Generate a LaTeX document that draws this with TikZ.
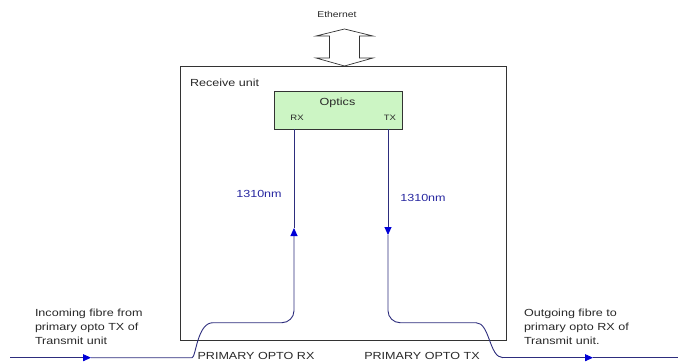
\documentclass[tikz,border=0pt]{standalone}
\usepackage{fontspec}
\setmainfont[FakeStretch=1.22]{Liberation Sans}
\usetikzlibrary{arrows.meta}
\definecolor{fib}{RGB}{45,45,125}
\definecolor{tipblue}{RGB}{0,0,215}
\definecolor{lbl}{RGB}{40,40,160}
\definecolor{optfill}{RGB}{204,245,196}
\definecolor{txtc}{RGB}{40,40,40}
\begin{document}
\begin{tikzpicture}[x=1pt,y=-1pt,
  every node/.style={inner sep=0pt, outer sep=0pt, text=txtc},
  txt/.style={font=\fontsize{10.3}{14}\selectfont, align=left},
  small/.style={font=\fontsize{7.8}{9}\selectfont},
  frame/.style={draw=black!80, line width=0.8pt},
  fibre/.style={draw=fib, line width=0.9pt, rounded corners=12pt},
  tip/.style={-{Triangle[length=8pt,width=7pt,color=tipblue]}},
]
\useasboundingbox (0,0) rectangle (679,363);

% Ethernet
\node[font=\fontsize{8.5}{10}\selectfont, anchor=base] (eth) at (337,18) {Ethernet};
\draw[frame, line width=0.7pt, fill=white]
  (344.5,29) -- (373,36) -- (359.5,36) -- (359.5,58) -- (373,58) -- (344.5,66)
  -- (316,58) -- (329.5,58) -- (329.5,36) -- (316,36) -- cycle;

% Receive unit box
\node[frame, minimum width=326, minimum height=274, anchor=north west] (unit) at (180,66.7) {};
\node[txt, anchor=base west] (ulabel) at (190,86.5) {Receive unit};

% Optics
\node[draw=black!80, line width=0.7pt, fill=optfill, minimum width=128, minimum height=37.5, anchor=north west] (optics) at (274,91.7) {};
\node[txt, anchor=base] (optlbl) at (337.5,105.5) {Optics};
\node[small, anchor=base] (rx) at (297,120.5) {RX};
\node[small, anchor=base] (tx) at (390,120.5) {TX};

% coordinates
\coordinate (rxtop) at (294,129.2);
\coordinate (rxarr) at (294,228);
\coordinate (txtop) at (388,129.2);
\coordinate (txarr) at (388,235);
\coordinate (lin) at (10,357.7);
\coordinate (larr) at (91,357.7);
\coordinate (lbend) at (180,357.7);
\coordinate (lup) at (213,322.7);
\coordinate (rdown) at (476,322.7);
\coordinate (rbend) at (503,357.7);
\coordinate (rarr) at (593,357.7);
\coordinate (rout) at (678,357.7);

% incoming fibre (left)
\draw[fibre, tip] (lin) -- (larr);
\draw[fibre] (larr) -- (lbend) .. controls (196,357.7) and (197,322.7) .. (lup);
\draw[fibre, rounded corners=12pt, tip] (lup) -- (294,322.7) -- (rxarr);
\draw[fibre] (rxarr) -- (rxtop);

% outgoing fibre (right)
\draw[fibre, tip] (txtop) -- (txarr);
\draw[fibre, rounded corners=12pt] (txarr) -- (388,322.7) -- (rdown);
\draw[fibre] (rdown) .. controls (490,322.7) and (489,357.7) .. (rbend);
\draw[fibre, tip] (rbend) -- (rarr);
\draw[fibre] (rarr) -- (rout);

% wavelength labels
\node[txt, text=lbl] (wl1) at (259,194) {1310nm};
\node[txt, text=lbl] (wl2) at (423,198) {1310nm};

% port labels
\node[txt, anchor=base] (prx) at (256,359.5) {PRIMARY OPTO RX};
\node[txt, anchor=base] (ptx) at (422,359.5) {PRIMARY OPTO TX};

% fibre descriptions
\node[txt, anchor=north west] (intxt) at (35,309) {Incoming fibre from\\primary opto TX of\\Transmit unit};
\node[txt, anchor=north west] (outtxt) at (524,309) {Outgoing fibre to\\primary opto RX of\\Transmit unit.};
\end{tikzpicture}
\end{document}
